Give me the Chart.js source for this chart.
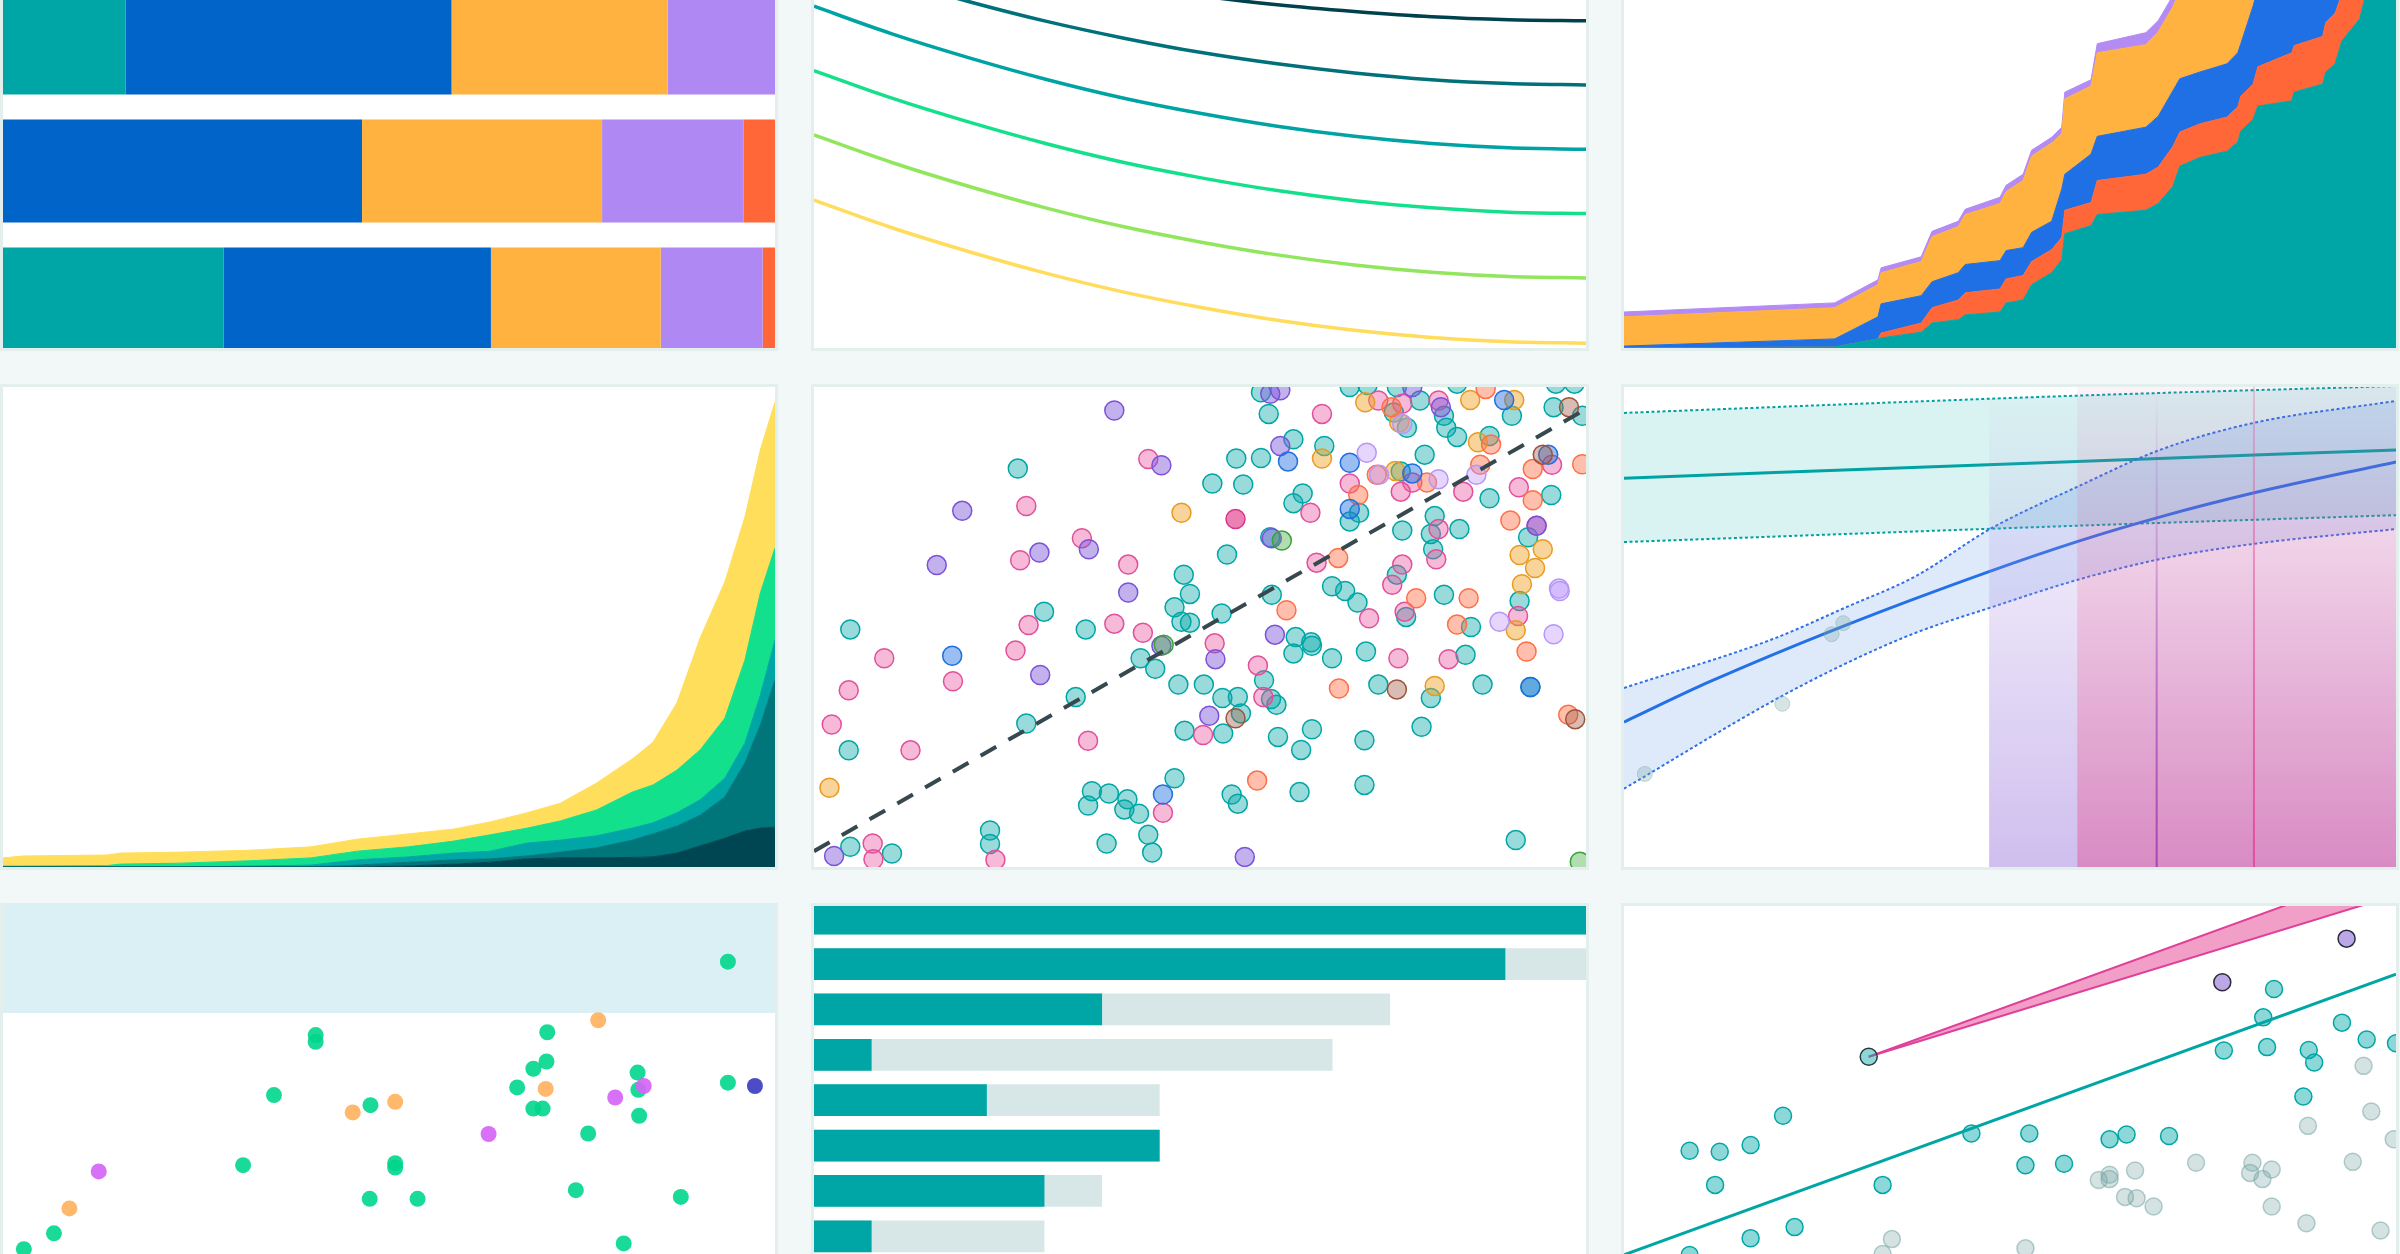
<!DOCTYPE html>
<html>
<head>
<meta charset="utf-8">
<title>Chart grid</title>
<script src="https://cdn.jsdelivr.net/npm/chart.js@4.4.1/dist/chart.umd.min.js"></script>
<style>
  html, body { margin: 0; padding: 0; }
  body { width: 2400px; height: 1254px; overflow: hidden; position: relative; background: #f1f8f7; }
  .panel { position: absolute; width: 772px; height: 480px; border: 3px solid #e2efed; background: #fff; overflow: hidden; }
  .panel canvas { position: absolute; left: 0; }
</style>
</head>
<body>
<div class="panel" id="p1" style="left:0;top:-135px"></div>
<div class="panel" id="p2" style="left:811px;top:-135px"></div>
<div class="panel" id="p3" style="left:1621px;top:-135px"></div>
<div class="panel" id="p4" style="left:0;top:384px"></div>
<div class="panel" id="p5" style="left:811px;top:384px"></div>
<div class="panel" id="p6" style="left:1621px;top:384px"></div>
<div class="panel" id="p7" style="left:0;top:903px;border-top-color:#dbf0f5"></div>
<div class="panel" id="p8" style="left:811px;top:903px"></div>
<div class="panel" id="p9" style="left:1621px;top:903px"></div>
<script>
// ---------- top left: shares, stacked to 100
const shareRows = ['2021', '2022', '2023'];
const shareA = [15.9, 0, 28.6];
const shareB = [42.2, 46.5, 34.6];
const shareC = [28.0, 31.1, 22.0];
const shareD = [13.9, 18.3, 13.2];
const shareE = [0, 4.1, 1.6];

// ---------- top middle: decay curves
const curveX = ['0', '10', '20', '30', '40', '50', '60', '70', '80', '90', '100'];
const curve1 = [89.1, 85.1, 81.6, 78.5, 75.7, 73.4, 71.5, 70.1, 69.0, 68.4, 68.2];
const curve2 = [82.0, 76.8, 72.2, 68.1, 64.6, 61.6, 59.2, 57.3, 55.9, 55.1, 54.8];
const curve3 = [71.2, 65.5, 60.5, 56.0, 52.1, 48.9, 46.2, 44.1, 42.6, 41.7, 41.4];
const curve4 = [57.8, 52.1, 47.1, 42.6, 38.7, 35.5, 32.8, 30.7, 29.2, 28.3, 28.0];
const curve5 = [44.4, 38.7, 33.7, 29.2, 25.3, 22.1, 19.4, 17.3, 15.8, 14.9, 14.6];
const curve6 = [30.8, 25.1, 20.1, 15.6, 11.7, 8.5, 5.8, 3.7, 2.2, 1.3, 1.0];

// ---------- top right: cumulative layers (top edge of each layer)
const growX = [0, 27.3, 32.9, 33.3, 38.5, 39.9, 43.3, 44.2, 48.7, 49.5, 51.7, 52.8, 55.4, 56.7, 57.1, 60.5, 61.3, 67.6,
  69.2, 71.1, 72.0, 74.6, 78.1, 79.5, 79.9, 81.5, 82.1, 86.5, 86.8, 90.5, 90.9, 92.1, 93.0, 95.3, 96.1, 100];
const growTeal = [0, 0.2, 1.9, 2.1, 3.3, 5.2, 5.9, 6.9, 7.5, 9.4, 10.0, 13.2, 15.7, 18.4, 23.8, 25.5, 27.8, 28.7,
  30.1, 33.7, 37.9, 39.7, 41.0, 42.9, 45.2, 47.7, 50.4, 51.5, 53.3, 55.0, 57.5, 59.2, 64.0, 68.6, 73.8, 85.4];
const growRed = [0, 0.2, 1.9, 3.1, 5.2, 8.4, 10.0, 11.5, 12.3, 14.4, 15.1, 18.0, 20.5, 23.0, 28.7, 30.3, 34.9, 36.2,
  37.7, 42.0, 45.0, 46.7, 48.1, 50.2, 52.5, 55.0, 58.6, 61.5, 63.0, 64.9, 67.8, 69.7, 73.8, 81.2, 83.3, 95.8];
const growBlue = [0.4, 1.9, 6.5, 9.2, 10.9, 13.8, 15.7, 17.4, 18.2, 20.3, 20.9, 24.1, 26.4, 33.1, 36.2, 40.4, 44.1, 46.0,
  48.3, 53.6, 56.1, 57.5, 59.2, 61.5, 63.4, 71.3, 74.9, 78.0, 79.5, 81.2, 83.7, 85.4, 89.5, 95.8, 97.9, 108.4];
const growOrange = [6.5, 8.4, 13.2, 15.7, 18.0, 23.2, 25.3, 27.8, 30.1, 32.6, 34.9, 40.0, 42.7, 44.6, 51.9, 54.6, 61.5, 63.2,
  65.9, 71.1, 74.5, 77.0, 79.1, 81.2, 83.3, 87.4, 90.6, 92.7, 93.7, 95.8, 97.9, 99.0, 102.1, 106.3, 108.4, 114.6];
const growPurple = [7.5, 9.4, 14.2, 16.7, 19.0, 24.3, 26.4, 28.9, 31.4, 33.9, 36.2, 41.2, 43.9, 46.0, 53.3, 55.9, 63.4, 65.7,
  68.2, 73.4, 76.6, 79.1, 81.2, 83.3, 85.4, 89.5, 92.7, 94.8, 95.8, 97.9, 100.0, 101.1, 104.2, 108.4, 110.5, 116.7];

// ---------- middle left: cumulative layers
const expX = [0, 2.6, 13.5, 15.2, 23.1, 32.0, 39.9, 45.9, 52.5, 58.4, 63.1, 67.9, 72.2, 76.9, 81.5, 84.2, 87.3, 90.3, 93.5, 96.1, 98.1, 100];
const expNight = [0, 0, 0, 0, 0, 0, 0, 0, 0.2, 0.6, 1.0, 1.7, 1.9, 1.9, 2.0, 2.1, 2.9, 4.4, 6.0, 7.5, 8.1, 8.3];
const expDeep = [0, 0, 0, 0, 0, 0, 0, 0.4, 1.0, 1.5, 1.7, 2.3, 3.1, 4.0, 5.6, 6.9, 8.5, 10.8, 14.6, 21.7, 29.6, 39.0];
const expTeal = [0, 0, 0, 0, 0, 0.2, 0.4, 1.5, 2.1, 2.9, 3.3, 5.0, 5.6, 6.5, 8.1, 9.2, 11.3, 14.0, 18.5, 25.8, 35.8, 47.3];
const expGreen = [0.2, 0.2, 0.3, 0.6, 0.8, 1.3, 1.9, 3.3, 4.2, 5.4, 6.7, 8.1, 9.6, 11.9, 15.6, 17.1, 20.2, 24.4, 31.0, 43.1, 57.1, 66.5];
const expYellow = [1.9, 2.3, 2.5, 2.9, 3.1, 3.5, 4.2, 5.8, 6.9, 7.9, 9.4, 11.3, 13.3, 17.5, 22.5, 26.0, 34.2, 47.7, 59.4, 72.9, 86.9, 96.9];

// ---------- centre: scatter by group
const scTeal = [[57.9,98.9],[58.9,94.4],[69.4,100.0],[71.7,100.4],[75.5,100.0],[83.3,100.7],[75.1,94.7],[76.8,91.5],[78.5,97.2],
  [81.6,94.0],[81.9,91.5],[83.3,89.6],[90.4,94.0],[96.1,100.7],[98.5,100.7],[95.8,95.8],[99.5,94.0],
  [62.1,89.1],[66.1,87.7],[54.7,85.1],[57.9,85.2],[79.1,85.9],[87.5,89.8],[26.4,83.0],[51.6,79.9],[55.6,79.7],[76.0,82.4],
  [95.5,77.5],[87.5,76.8],[63.3,77.8],[62.1,75.8],[70.6,73.8],[69.4,72.0],[80.4,73.1],[76.2,70.1],[79.9,69.4],[83.6,70.4],
  [92.5,68.7],[80.2,66.2],[59.1,68.7],[53.5,65.1],[75.5,60.9],[47.9,60.9],[48.7,56.9],[46.7,54.1],[47.6,51.1],[48.7,50.9],
  [52.8,52.8],[59.3,56.7],[67.1,58.5],[68.8,57.5],[70.4,55.1],[76.7,52.1],[81.6,56.7],[91.4,55.4],[85.1,50.0],[29.8,53.2],
  [35.2,49.5],[4.7,49.5],[62.4,47.9],[64.4,46.8],[64.5,46.1],[62.1,44.5],[67.1,43.5],[71.5,44.9],[84.4,44.2],[42.3,43.5],
  [44.2,41.3],[58.3,38.9],[59.2,35.0],[59.9,33.8],[33.9,35.4],[47.2,38.0],[50.5,38.0],[52.9,35.2],[54.9,35.4],[73.1,38.0],
  [79.9,35.2],[86.6,38.0],[92.8,37.5],[27.5,29.9],[55.3,32.0],[48.0,28.4],[53.0,27.8],[60.1,27.1],[64.5,28.7],[63.1,24.4],
  [71.3,26.4],[78.7,29.2],[4.5,24.3],[46.7,18.5],[36.0,15.8],[38.2,15.3],[40.6,14.1],[35.5,12.8],[40.2,12.0],[42.1,11.1],
  [54.1,15.1],[54.9,13.2],[62.9,15.6],[71.3,17.1],[22.8,7.6],[22.8,4.8],[37.9,4.9],[43.3,6.7],[43.8,3.0],[90.9,5.6],
  [4.7,4.2],[10.1,2.8]];
const scPink = [[65.8,94.4],[73.1,97.2],[76.2,96.5],[80.9,97.2],[43.3,85.0],[77.5,80.1],[69.4,79.9],[76.0,78.2],[84.1,78.2],
  [91.3,79.1],[95.6,83.8],[27.5,75.2],[64.3,73.8],[80.9,70.4],[93.6,71.1],[80.6,64.1],[34.7,68.5],[26.7,63.9],[40.7,63.0],
  [65.1,63.4],[76.2,63.0],[74.9,58.8],[71.9,51.8],[76.5,53.2],[91.2,52.3],[27.8,50.4],[38.9,50.7],[42.6,48.8],[51.9,46.6],
  [75.7,43.5],[82.2,43.3],[9.1,43.5],[26.1,45.1],[57.5,42.0],[58.2,35.4],[18.0,38.7],[4.5,36.8],[2.3,29.7],[50.4,27.5],
  [12.5,24.3],[35.5,26.3],[45.2,11.3],[23.5,1.5],[7.6,4.9],[7.7,1.6]];
const scHot = [[54.6,72.5]];
const scPurple = [[59.1,98.6],[60.4,99.3],[77.5,100.0],[81.2,95.8],[38.9,95.1],[60.4,87.7],[45.0,83.7],[19.2,74.2],[59.3,68.5],
  [35.6,66.2],[29.2,65.5],[15.9,62.9],[40.7,57.2],[52.0,43.3],[59.7,48.4],[29.3,40.0],[51.2,31.5],[55.8,2.1],[2.6,2.3],
  [45.0,46.1],[93.6,71.1]];
const scOrange = [[71.4,96.8],[75.8,92.6],[85.0,97.3],[90.7,97.3],[65.8,85.1],[86.0,88.5],[75.3,82.5],[47.6,73.8],[94.4,66.2],
  [91.4,65.0],[93.4,62.3],[91.7,58.9],[90.9,49.3],[80.4,37.7],[2.0,16.5]];
const scSalmon = [[87.0,99.6],[74.8,95.8],[87.7,88.0],[86.3,83.8],[99.5,83.9],[72.9,81.7],[79.4,80.1],[70.5,77.5],[93.1,82.9],
  [93.1,76.4],[90.2,72.2],[67.9,64.4],[61.2,53.5],[78.0,56.0],[84.8,56.0],[83.3,50.5],[92.3,44.9],[68.0,37.2],[57.4,18.0],
  [97.7,31.7]];
const scBlue = [[89.4,97.3],[61.4,84.5],[69.4,84.2],[77.5,82.0],[95.1,85.9],[69.4,74.6],[17.9,44.0],[45.2,15.1],[92.8,37.5]];
const scLilac = [[71.6,86.3],[76.2,92.3],[73.2,81.7],[80.9,80.8],[85.8,81.7],[88.8,51.1],[96.5,58.0],[96.6,57.5],[95.8,48.5]];
const scGreen = [[60.6,68.0],[99.2,1.1],[45.3,46.3]];
const scBrown = [[97.8,95.8],[94.4,85.9],[75.5,37.0],[54.6,31.0],[98.6,30.8]];
const scTrend = [[0, 3.3], [100, 95.4]];

// ---------- middle right: two fits with bands
const tealFitX = [0, 58.7, 100];
const tealFit = [81.0, 84.5, 86.9];
const tealHigh = [94.6, 98.2, 100.2];
const tealLow = [67.7, 71.1, 73.3];
const blueFitX = [0, 11.1, 28.6, 47.2, 58.7, 69.6, 81.5, 100];
const blueFit = [30.2, 38.6, 50.3, 61.5, 67.8, 73.0, 77.9, 84.4];
const blueBandX = [0, 19.3, 28.6, 37.8, 47.4, 58.7, 69.6, 81.5, 100];
const blueHigh = [37.3, 47.5, 54.0, 60.6, 70.4, 79.2, 87.0, 92.5, 97.1];
const blueLow = [16.3, 34.6, 42.3, 48.8, 54.0, 59.8, 64.2, 67.3, 70.4];
const fitSamples = [[2.7, 19.4], [20.5, 34.0], [26.9, 48.5], [28.4, 50.8]];
const zoneFrom = [47.3, 58.7];
const zoneTo = [58.7, 100];
const markerAt = [69.0, 81.6];

// ---------- bottom left: scatter with a band
const dotGreen = [[93.9,88.4],[40.5,73.1],[40.5,71.7],[70.5,73.7],[70.4,67.6],[68.7,66.1],[82.2,65.3],[82.3,61.7],[66.6,62.2],
  [68.7,57.8],[69.9,57.8],[82.4,56.3],[75.8,52.6],[93.9,63.2],[35.1,60.6],[47.6,58.5],[31.1,46.0],[50.8,46.4],[50.8,45.5],
  [47.5,39.0],[53.7,39.0],[74.2,40.8],[87.8,39.4],[6.6,31.8],[2.7,28.5],[80.4,29.7]];
const dotOrange = [[77.1,76.2],[70.3,61.9],[50.8,59.2],[45.3,57.0],[8.6,37.0]];
const dotMagenta = [[83.0,62.5],[79.3,60.1],[62.9,52.5],[12.4,44.7]];
const dotNavy = [[97.4,62.5]];
const bandFrom = 77.7;
const bandTo = 100;

// ---------- bottom middle: progress bars
const progRows = ['a', 'b', 'c', 'd', 'e', 'f', 'g', 'h'];
const progDone = [14, 12, 5, 1, 3, 6, 4, 1];
const progTotal = [14, 14, 10, 9, 6, 6, 5, 4];
const progMax = 13.4;

// ---------- bottom right: scatter, fit and wedge
const ptTeal = [[84.2,82.7],[82.8,76.8],[93.0,75.7],[96.2,72.2],[100.0,71.4],[77.7,69.9],[83.3,70.6],[88.7,70.0],[89.4,67.4],
  [88.0,60.3],[8.5,49.0],[12.4,48.8],[16.4,50.2],[20.6,56.3],[11.8,41.9],[33.5,41.9],[45.0,52.6],[52.5,52.6],[62.9,51.4],
  [65.1,52.4],[70.6,52.1],[52.0,46.0],[57.0,46.3],[16.4,30.8],[22.1,33.1],[8.5,27.3]];
const ptGray = [[95.8,66.7],[96.8,57.2],[88.6,54.2],[99.7,51.4],[74.1,46.5],[94.4,46.7],[81.4,46.5],[81.1,44.4],[82.7,43.1],
  [83.9,45.1],[61.5,42.9],[62.9,44.0],[62.9,43.1],[66.2,44.9],[64.9,39.4],[66.4,39.1],[68.6,37.4],[83.9,37.4],[88.4,33.9],
  [98.0,32.4],[34.7,30.6],[52.0,28.7],[33.5,27.5]];
const ptPurple = [[77.5,84.1],[93.6,93.2]];
const ptFocus = [[31.7,68.6]];
const fitLine = [[0, 27.3], [100, 85.8]];
const wedgeTop = [[31.7, 68.6], [100, 108.5]];
const wedgeBottom = [[31.7, 68.6], [100, 102.3]];

// ---------- helpers
const pts = (xs, ys) => xs.map((x, i) => ({ x: x, y: ys[i] }));
const axis = (min, max) => ({ type: 'linear', display: false, min: min, max: max });

function chartIn(id, top, height, config) {
  const canvas = document.createElement('canvas');
  canvas.width = 772;
  canvas.height = height;
  canvas.style.top = top + 'px';
  document.getElementById(id).appendChild(canvas);
  const opts = config.options || {};
  opts.responsive = false;
  opts.animation = false;
  opts.events = [];
  opts.layout = { padding: 0, autoPadding: false };
  opts.plugins = Object.assign({ legend: { display: false }, tooltip: { enabled: false } }, opts.plugins || {});
  config.options = opts;
  return new Chart(canvas.getContext('2d'), config);
}

function area(xs, ys, color, fill) {
  return { data: pts(xs, ys), borderColor: color, backgroundColor: color, borderWidth: 1,
    pointRadius: 0, tension: 0, fill: fill };
}

function dots(data, fill, stroke, r, bw) {
  return { data: data, pointBackgroundColor: fill, pointBorderColor: stroke, pointBorderWidth: bw,
    pointRadius: r, pointHoverRadius: r, showLine: false };
}

// top left
const bar = (data, color) => ({ data: data, backgroundColor: color, borderWidth: 0, categoryPercentage: 1, barPercentage: 0.805 });
chartIn('p1', 111, 384, {
  type: 'bar',
  data: { labels: shareRows, datasets: [
    bar(shareA, '#00a6a6'), bar(shareB, '#0064c8'), bar(shareC, '#ffb23f'), bar(shareD, '#b088f3'), bar(shareE, '#ff6638')
  ] },
  options: {
    indexAxis: 'y',
    scales: { x: { type: 'linear', display: false, stacked: true, min: 0, max: 100 },
              y: { type: 'category', display: false, stacked: true, offset: true } }
  }
});

// top middle
const curve = (data, color) => ({ data: data, borderColor: color, borderWidth: 3.5, pointRadius: 0,
  cubicInterpolationMode: 'monotone', fill: false });
chartIn('p2', 0, 480, {
  type: 'line',
  data: { labels: curveX, datasets: [
    curve(curve1, '#00414e'), curve(curve2, '#00707a'), curve(curve3, '#00a3a3'),
    curve(curve4, '#14e08c'), curve(curve5, '#92e65e'), curve(curve6, '#ffdc5c')
  ] },
  options: { scales: { x: { display: false }, y: axis(0, 100) } }
});

// top right
chartIn('p3', 0, 480, {
  type: 'line',
  data: { datasets: [
    area(growX, growTeal, '#00a6a6', 'origin'),
    area(growX, growRed, '#ff6638', '-1'),
    area(growX, growBlue, '#1f70e4', '-1'),
    area(growX, growOrange, '#ffb23f', '-1'),
    area(growX, growPurple, '#b48af3', '-1')
  ] },
  options: { scales: { x: axis(0, 100), y: axis(0, 100) } }
});

// middle left
chartIn('p4', 0, 480, {
  type: 'line',
  data: { datasets: [
    area(expX, expNight, '#004552', 'origin'),
    area(expX, expDeep, '#00767b', '-1'),
    area(expX, expTeal, '#00a6a6', '-1'),
    area(expX, expGreen, '#13e08d', '-1'),
    area(expX, expYellow, '#ffde5c', '-1')
  ] },
  options: { scales: { x: axis(0, 100), y: axis(0, 100) } }
});

// centre scatter
const R5 = 9.5;
chartIn('p5', 0, 480, {
  type: 'scatter',
  data: { datasets: [
    { type: 'line', data: scTrend, borderColor: '#37484f', borderWidth: 4, borderDash: [18, 14], pointRadius: 0, fill: false },
    dots(scGreen, 'rgba(60,170,60,0.4)', '#3aa33a', R5, 1.5),
    dots(scBrown, 'rgba(160,90,70,0.4)', '#9a553c', R5, 1.5),
    dots(scLilac, 'rgba(190,150,255,0.4)', '#b796f7', R5, 1.5),
    dots(scBlue, 'rgba(31,111,224,0.45)', '#1f6fe0', R5, 1.5),
    dots(scSalmon, 'rgba(255,112,72,0.45)', '#ff6f47', R5, 1.5),
    dots(scOrange, 'rgba(240,160,32,0.45)', '#e89b20', R5, 1.5),
    dots(scPurple, 'rgba(123,82,217,0.45)', '#7b52d9', R5, 1.5),
    dots(scHot, 'rgba(226,60,140,0.65)', '#d9358a', R5, 1.5),
    dots(scPink, 'rgba(232,80,154,0.4)', '#e2509a', R5, 1.5),
    dots(scTeal, 'rgba(0,166,166,0.4)', '#00a6a6', R5, 1.5)
  ] },
  options: { scales: { x: axis(0, 100), y: axis(0, 100) } }
});

// middle right
const zonePlugin = {
  id: 'zones',
  afterDatasetsDraw(chart) {
    const { ctx, chartArea: a, scales: { x } } = chart;
    const tops = ['rgba(170,140,225,0)', 'rgba(200,90,170,0.07)'];
    const bottoms = ['rgba(170,140,225,0.56)', 'rgba(200,90,170,0.7)'];
    ctx.save();
    zoneFrom.forEach((from, i) => {
      const x0 = x.getPixelForValue(from), x1 = x.getPixelForValue(zoneTo[i]);
      const g = ctx.createLinearGradient(0, a.top, 0, a.bottom);
      g.addColorStop(0, tops[i]);
      g.addColorStop(1, bottoms[i]);
      ctx.fillStyle = g;
      ctx.fillRect(x0, a.top, x1 - x0, a.bottom - a.top);
    });
    const lineTop = ['rgba(160,60,180,0)', 'rgba(230,70,150,0.25)'];
    const lineBottom = ['rgba(160,60,180,0.9)', 'rgba(230,70,150,0.9)'];
    markerAt.forEach((v, i) => {
      const px = x.getPixelForValue(v);
      const g = ctx.createLinearGradient(0, a.top, 0, a.bottom);
      g.addColorStop(0, lineTop[i]);
      g.addColorStop(1, lineBottom[i]);
      ctx.strokeStyle = g;
      ctx.lineWidth = 2;
      ctx.beginPath();
      ctx.moveTo(px, a.top);
      ctx.lineTo(px, a.bottom);
      ctx.stroke();
    });
    ctx.restore();
  }
};
const fitLineDs = (xs, ys, color, width, dash, fill, bg) => ({ data: pts(xs, ys), borderColor: color, borderWidth: width,
  borderDash: dash, pointRadius: 0, cubicInterpolationMode: 'monotone', fill: fill, backgroundColor: bg });
chartIn('p6', 0, 480, {
  type: 'line',
  data: { datasets: [
    Object.assign(dots(fitSamples, 'rgba(120,165,165,0.3)', 'rgba(120,165,165,0.4)', 7.5, 1), { type: 'scatter' }),
    fitLineDs(blueFitX, blueFit, '#2470e8', 3, [], false),
    fitLineDs(blueBandX, blueHigh, '#2f6fe8', 2, [3, 2.5], '+1', 'rgba(31,111,224,0.15)'),
    fitLineDs(blueBandX, blueLow, '#2f6fe8', 2, [3, 2.5], false),
    fitLineDs(tealFitX, tealFit, '#00a3a3', 3, [], false),
    fitLineDs(tealFitX, tealHigh, '#00a0a0', 2, [3, 2.5], '+1', 'rgba(0,166,166,0.15)'),
    fitLineDs(tealFitX, tealLow, '#00a0a0', 2, [3, 2.5], false)
  ] },
  options: {
    scales: { x: axis(0, 100), y: axis(0, 100) },
    plugins: { filler: { drawTime: 'beforeDatasetsDraw' } }
  },
  plugins: [zonePlugin]
});

// bottom left
const bandPlugin = {
  id: 'band',
  beforeDatasetsDraw(chart) {
    const { ctx, chartArea: a, scales: { y } } = chart;
    const y0 = y.getPixelForValue(bandTo), y1 = y.getPixelForValue(bandFrom);
    ctx.save();
    ctx.fillStyle = '#dbf0f5';
    ctx.fillRect(a.left, y0, a.right - a.left, y1 - y0);
    ctx.restore();
  }
};
chartIn('p7', 0, 480, {
  type: 'scatter',
  data: { datasets: [
    dots(dotNavy, 'rgba(66,66,196,0.95)', 'rgba(66,66,196,0.95)', 8, 0),
    dots(dotMagenta, 'rgba(213,100,247,0.92)', 'rgba(213,100,247,0.92)', 8, 0),
    dots(dotOrange, 'rgba(255,180,100,0.95)', 'rgba(255,180,100,0.95)', 8, 0),
    dots(dotGreen, 'rgba(0,214,140,0.9)', 'rgba(0,214,140,0.9)', 8, 0)
  ] },
  options: { scales: { x: axis(0, 100), y: axis(0, 100) } },
  plugins: [bandPlugin]
});

// bottom middle
chartIn('p8', -10, 363, {
  type: 'bar',
  data: { labels: progRows, datasets: [
    { data: progDone, backgroundColor: '#00a6a6', borderWidth: 0, grouped: false, categoryPercentage: 1, barPercentage: 0.7 },
    { data: progTotal, backgroundColor: '#d7e6e6', borderWidth: 0, grouped: false, categoryPercentage: 1, barPercentage: 0.7 }
  ] },
  options: {
    indexAxis: 'y',
    scales: { x: { type: 'linear', display: false, min: 0, max: progMax },
              y: { type: 'category', display: false, offset: true } }
  }
});

// bottom right
const straight = (data, color, width, fill, bg) => ({ type: 'line', data: data, borderColor: color, borderWidth: width,
  pointRadius: 0, fill: fill, backgroundColor: bg });
chartIn('p9', 0, 480, {
  type: 'scatter',
  data: { datasets: [
    dots(ptFocus, 'rgba(0,166,166,0.45)', '#2b3a3d', 8.5, 1.5),
    dots(ptPurple, '#bba6e6', '#2b2b3a', 8.5, 1.5),
    dots(ptTeal, 'rgba(0,166,166,0.45)', '#00a6a6', 8.5, 1.5),
    dots(ptGray, 'rgba(120,165,165,0.32)', 'rgba(120,165,165,0.55)', 8.5, 1.5),
    straight(wedgeBottom, '#e0409a', 2, false),
    straight(wedgeTop, '#e0409a', 2, '-1', 'rgba(232,80,154,0.55)'),
    straight(fitLine, '#00a6a6', 3, false)
  ] },
  options: { scales: { x: axis(0, 100), y: axis(0, 100) } }
});
</script>
</body>
</html>
